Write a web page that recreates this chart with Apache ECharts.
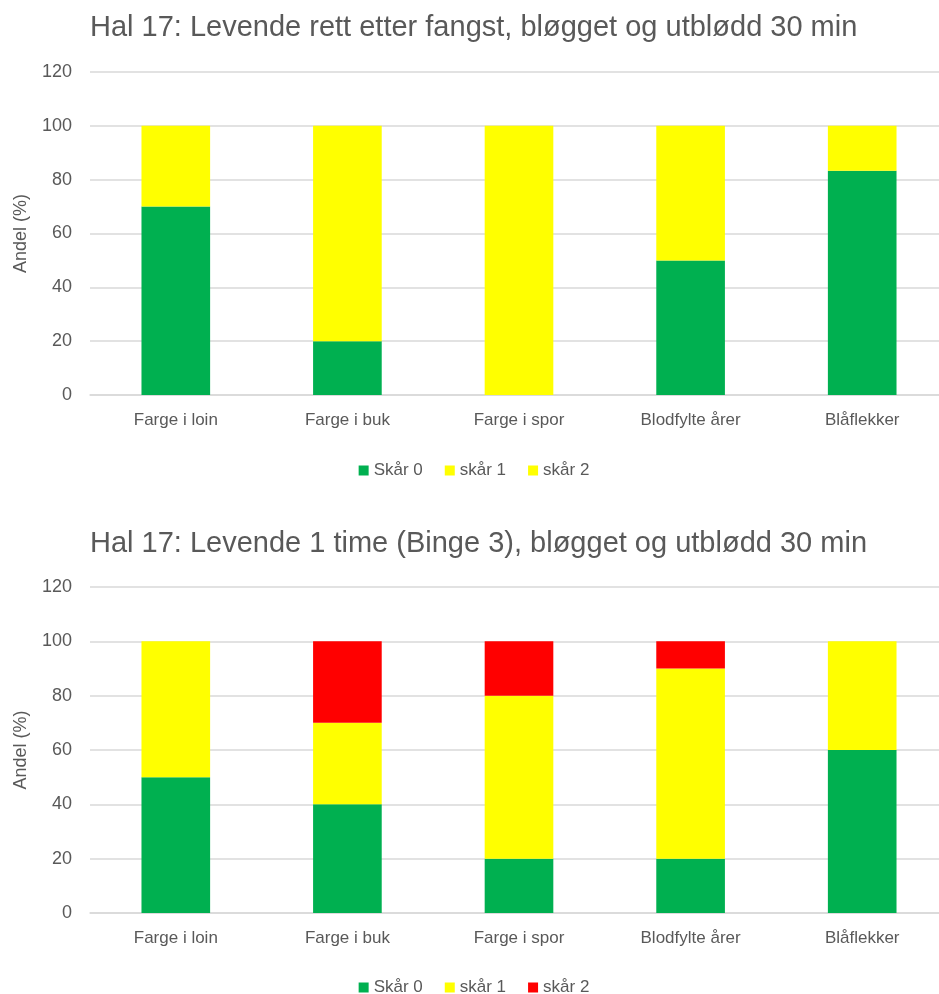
<!DOCTYPE html>
<html><head><meta charset="utf-8">
<script src="https://cdn.jsdelivr.net/npm/echarts@6/dist/echarts.min.js"></script>
<style>html,body{margin:0;padding:0;background:#fff;overflow:hidden}#c1,#c2{width:948px;height:497px}</style>
</head><body>
<div id="c1"></div><div id="c2"></div>
<script>
const categories = ['Farge i loin','Farge i buk','Farge i spor','Blodfylte årer','Blåflekker'];
const yTicks = [0,20,40,60,80,100,120];
const title1 = 'Hal 17: Levende rett etter fangst, bløgget og utblødd 30 min';
const title2 = 'Hal 17: Levende 1 time (Binge 3), bløgget og utblødd 30 min';
const seriesNames = ['Skår 0','skår 1','skår 2'];
const top0 = [70,20,0,50,83.33];
const top1 = [30,80,100,50,16.67];
const top2 = [0,0,0,0,0];
const bot0 = [50,40,20,20,60];
const bot1 = [50,30,60,70,40];
const bot2 = [0,30,20,10,0];
const colorsTop = ['#00b050','#ffff00','#ffff00'];
const colorsBot = ['#00b050','#ffff00','#ff0000'];
const FONT = 'Liberation Sans, Arial, sans-serif';

function makeOption(title, data, colors, titleTop, gridTop, gridH, legendTop){
  return {
    animation:false,
    textStyle:{fontFamily:FONT},
    title:{text:title,left:85,top:titleTop,textStyle:{fontFamily:FONT,fontSize:29,fontWeight:'normal',color:'#595959'}},
    legend:{top:legendTop,left:'center',itemWidth:10,itemHeight:10,itemGap:22,icon:'rect',
      textStyle:{fontFamily:FONT,fontSize:17,color:'#595959'},
      data:seriesNames.map((n,i)=>({name:n,itemStyle:{color:colors[i]}}))},
    grid:{left:90,top:gridTop,right:0,height:gridH,containLabel:false},
    xAxis:{type:'category',data:categories,axisTick:{show:false},
      axisLine:{lineStyle:{color:'#d9d9d9',width:1.5}},
      axisLabel:{fontFamily:FONT,fontSize:17,color:'#595959',margin:17}},
    yAxis:{type:'value',min:0,max:120,interval:20,name:'Andel (%)',nameLocation:'middle',nameGap:60,
      nameTextStyle:{fontFamily:FONT,fontSize:18,color:'#595959'},
      axisLabel:{fontFamily:FONT,fontSize:18,color:'#595959',margin:18},
      splitLine:{lineStyle:{color:'#d9d9d9',width:1.5}},axisLine:{show:false},axisTick:{show:false}},
    series:data.map((d,i)=>({name:seriesNames[i],type:'bar',stack:'s',data:d,barCategoryGap:'60%',
      itemStyle:{color:colors[i]}}))
  };
}
const c1 = echarts.init(document.getElementById('c1'));
c1.setOption(makeOption(title1,[top0,top1,top2],colorsTop,8,72,323,457));
const c2 = echarts.init(document.getElementById('c2'));
c2.setOption(makeOption(title2,[bot0,bot1,bot2],colorsBot,27,90,326,477));
</script>
</body></html>
